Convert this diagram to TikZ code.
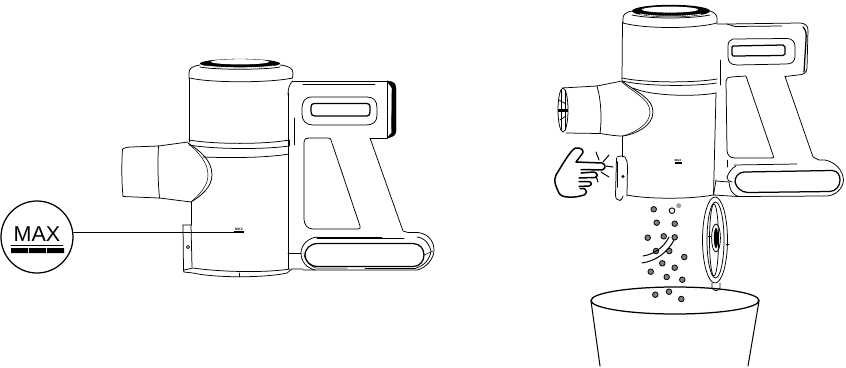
\documentclass[tikz,border=0pt]{standalone}
\usepackage{fontspec}
\setmainfont{Liberation Sans}
\begin{document}
\begin{tikzpicture}[x=1pt,y=-1pt,line join=round,line cap=round,
  ln/.style={draw=black,line width=0.75pt},
  hv/.style={draw=black,line width=1.25pt},
  thin ln/.style={draw=black,line width=0.5pt},
  dust/.style={circle,draw=black,fill=black!50,line width=0.8pt,inner sep=0pt,minimum size=5.6pt},
  wdust/.style={circle,draw=black,fill=white,line width=0.9pt,inner sep=0pt,minimum size=5.6pt},
  gdust/.style={circle,fill=black!38,inner sep=0pt,minimum size=5pt},
  tiny max/.style={font=\fontsize{3.4}{3.4}\selectfont\bfseries,inner sep=0pt,text=black}]
\useasboundingbox (0,0) rectangle (846,367);

% ---------- LEFT VACUUM ----------
% cap
\fill[black] (240,63.5) ellipse [x radius=40,y radius=4.6];
\fill[white] (240,61.8) ellipse [x radius=29,y radius=2.6];
\draw[white,line width=1pt,dash pattern=on 1pt off 1pt] (206,66) .. controls (225,68.4) and (255,68.4) .. (274,66);
\draw[ln] (189,78) -- (189,73) .. controls (189,68) and (193,66) .. (200,65);
\draw[ln] (280,65) .. controls (288,66) and (293,68) .. (293,73) -- (292.5,78);
\draw[ln] (200,67) .. controls (215,70) and (265,70) .. (280,67);
\draw[ln] (190,78) .. controls (210,83) and (270,83) .. (292.5,78);
% upper body
\draw[ln] (189,78) -- (189,142);
% band
\draw[ln] (189,140) .. controls (215,144.5) and (265,144.5) .. (289,140);
\draw[ln] (189,145) .. controls (215,149.5) and (265,149.5) .. (289,146);
\draw[ln] (203,157) .. controls (230,158) and (265,158) .. (289,154);
\draw[thin ln] (289,140) -- (289,146);
% nozzle
\draw[ln] (158.5,146) -- (131,147) .. controls (127,147) and (124,148) .. (122.5,149)
  .. controls (121.5,165) and (121.5,180) .. (123,196.5) -- (159,198);
\draw[ln] (158.5,146) .. controls (157.5,165) and (158,182) .. (159.5,198);
\draw[ln] (158.5,146) -- (188,142);
\draw[ln] (159.5,198) -- (191,202);
\draw[ln] (188,143) .. controls (200,151) and (212,160) .. (212,175) .. controls (212,187) and (201,196) .. (191,202);
\draw[thin ln] (188,143) .. controls (198,152) and (208,162) .. (208,175) .. controls (208,186) and (199,195) .. (191,202);
% lower body and latch
\draw[thin ln] (191,202) -- (191,225);
\draw[ln] (183,225) -- (191,225) -- (192,267);
\draw[ln] (183,225) -- (183.5,270) -- (184,272);
\draw[ln] (188,247) circle (1.6);
\draw[ln] (184,270) -- (193,268) .. controls (220,272) and (265,273) .. (290,269);
\draw[ln] (184,272) -- (193,273) .. controls (215,278) and (265,278) .. (287,273) -- (292,269) -- (303,269);
\draw[thin ln] (239,273) -- (239,277);
\draw[ln] (288,93) -- (288,269);
% handle
\draw[ln] (292.5,81) -- (387,81) (303,84) -- (375,84);
\draw[ln] (292.5,81) .. controls (289,85) and (288,89) .. (288,95);
\draw[ln] (387,81) -- (387,138) -- (370,138);
\draw[black,fill=black] (387,81) -- (391,81.5) .. controls (395,83) and (396,85) .. (396,88) -- (396,131) .. controls (396,135) and (393,137) .. (387,138) -- (391.5,133) -- (392,88) -- cycle;
\draw[ln] (370,138) -- (403,231) -- (408,232.5) -- (418,232.5) .. controls (430,234) and (434,243) .. (434,250) .. controls (434,259) and (426,268) .. (417,270) -- (303,270);
\draw[ln] (417,237) .. controls (426,238) and (430,246) .. (431,251) .. controls (430,259) and (424,266) .. (416,268);
\draw[thin ln] (424,255) -- (433,251);
\draw[ln] (302,110) .. controls (302,101) and (305,97) .. (312,97) -- (367,97) .. controls (374,97) and (377,101) .. (377,108) -- (377,115) .. controls (377,122) and (373,125) .. (366,125) -- (313,125) .. controls (306,125) and (302,121) .. (302,114) -- cycle;
\draw[hv] (314,103.5) -- (367,103.5) .. controls (369.5,103.5) and (370,105) .. (370,107) -- (370,112) .. controls (370,114.5) and (369,116) .. (367,116) -- (315,116) .. controls (312.5,116) and (311,115) .. (311,112) -- (311,107) .. controls (311,105) and (312,103.5) .. (314,103.5);
\draw[ln] (309,138) -- (328,138) .. controls (330,138) and (331,139) .. (331,140) -- (360,226) .. controls (360.5,228) and (360,229) .. (358,229) -- (313,229) .. controls (307,229) and (304,224) .. (304,219) -- (304,142) .. controls (304,139) and (306,138) .. (309,138) -- cycle;
\draw[ln] (294,118) -- (294,145);
\draw[ln] (288,253) -- (301,253);
\draw[ln] (317,237) -- (382,237) (317,238.5) -- (404,238.5);
\draw[ln] (317,237) .. controls (308,238) and (301,245) .. (301,253) .. controls (301,262) and (307,268) .. (315,270);
\draw[thin ln] (304,252) .. controls (304,260) and (309,266) .. (316,268) -- (347,268);
\draw[thin ln] (365,268) -- (416,268);
\draw[hv] (318,243.5) -- (413,243.5) .. controls (420,243.5) and (424,249) .. (424,255) .. controls (424,261) and (420,266.5) .. (413,266.5) -- (318,266.5) .. controls (310,266.5) and (305,261) .. (305,255) .. controls (305,249) and (310,243.5) .. (318,243.5) -- cycle;
% MAX callout
\node[draw=black,line width=1.25pt,circle,minimum size=72pt,inner sep=0pt] (maxc) at (37,237) {};
\node[font=\fontsize{21.5}{21.5}\selectfont,inner sep=0pt] (maxt) at (37,234.4) {MAX};
\node[tiny max] (smaxa) at (239,229) {MAX};
\node[fill=black,minimum width=9.5pt,minimum height=2pt,inner sep=0pt] (smaxb) at (239,232.4) {};
\coordinate (maxe) at (234.3,232);
\draw[ln,line width=0.9pt] (maxc.east |- maxe) -- (maxe);
\draw[line width=0.8pt] (11,245) -- (63,245);
\fill[black] (11,248) rectangle (28,253) (29,248) rectangle (46,253) (47,248) rectangle (64,253);

% ---------- RIGHT VACUUM ----------
% cap
\fill[black] (671,11) ellipse [x radius=39,y radius=6.2];
\fill[white] (670,9.6) ellipse [x radius=28,y radius=3];
\draw[white,line width=1pt,dash pattern=on 1.2pt off 1.2pt] (640,14) .. controls (655,17) and (685,17) .. (702,14);
\draw[ln] (623,23) -- (623,18) .. controls (623,14) and (627,12) .. (632,11);
\draw[ln] (710,11) .. controls (714,12) and (717,15) .. (717,18) -- (717,23);
\draw[ln] (632,15) .. controls (650,19) and (690,19) .. (710,15);
\draw[ln] (623,23) .. controls (645,29) and (695,29) .. (717,23);
\draw[ln] (622.5,22) -- (622,80);
\draw[ln] (622,78) .. controls (645,83) and (695,83) .. (717,79);
\draw[ln] (622,81) .. controls (645,86.5) and (695,86.5) .. (716.5,83);
\draw[ln] (633,88) .. controls (650,96) and (695,97) .. (716,93);
% nozzle
\draw[ln] (562,88) -- (597,86) -- (622,81);
\draw[ln] (566,133) -- (600,133.5) .. controls (610,135) and (615,136) .. (623,136);
\draw[ln] (563,110) ellipse [x radius=5,y radius=22];
\fill[black] (558,109) rectangle (568,111.5);
\draw[ln] (559,100) -- (566,104) (560,120) -- (566,116);
\draw[thin ln] (561,90) -- (561,130) (565,90) -- (565,130);
\draw[ln] (597,86) .. controls (601,100) and (602,118) .. (600,133.5);
\draw[ln] (622,81) .. controls (636,92) and (653,98) .. (653,112) .. controls (653,126) and (636,134) .. (623,136);
\draw[thin ln] (622,82) .. controls (634,93) and (650,99) .. (650,112) .. controls (650,124) and (636,132) .. (623,136);
% lower body, latch
\draw[thin ln] (622,136) -- (622,157);
\draw[ln] (617,157) .. controls (620,155.5) and (623,155.5) .. (625,157) .. controls (627,160) and (627.5,163) .. (627.5,166) -- (627,196);
\draw[ln] (616.5,158) -- (615.5,195) .. controls (615.5,199) and (617,200) .. (620,200.5) .. controls (622,199) and (622.5,198) .. (623,196);
\draw[hv,line width=1.5pt] (617.5,162) -- (617.5,187);
\fill[black] (623,176.5) circle (1.6);
\draw[ln] (627,195) .. controls (645,199) and (690,199.5) .. (713,195);
\draw[ln] (716,93) -- (713.5,195);
\node[tiny max,font=\fontsize{3}{3}\selectfont\bfseries] (smaxc) at (678,160) {MAX};
\node[fill=black,minimum width=7pt,minimum height=2pt,inner sep=0pt] (smaxd) at (678,163) {};
% handle
\draw[ln] (717,24) -- (727,24) (727,24) -- (735,26.5) -- (782,26);
\draw[ln] (727,24) -- (800,23) .. controls (805,23) and (808,26) .. (808,30) -- (807,68) .. controls (807,72) and (804,75) .. (798,75) -- (785,76.5);
\draw[hv] (803,27) .. controls (806,30) and (806.5,33) .. (806,40) -- (804,72);
\draw[ln] (785,76.5) -- (813,157) -- (819,160) -- (825,160) .. controls (835,162) and (843,170) .. (843.5,180) .. controls (843,189) and (835,196) .. (826,196) -- (738,196.5) .. controls (731,193) and (730,190) .. (729,182);
\draw[ln] (729,182) -- (716,181);
\draw[ln] (716,180) -- (713.5,195) (713.5,195) -- (738,196.5);
\draw[ln] (734,165) -- (797,164);
\draw[ln] (736,166) .. controls (732,168) and (729,172) .. (727,177);
\draw[ln] (727,177) .. controls (727,180) and (729,182) .. (732,182);
\draw[ln] (733,39) -- (786,38.5) .. controls (793,38.5) and (795,42) .. (795,47) -- (795,55) .. controls (795,62) and (792,64) .. (786,64) -- (737,65) .. controls (731,65) and (728,62) .. (728,57) -- (728,46) .. controls (728,42) and (730,39.5) .. (733,39) -- cycle;
\draw[hv] (733,46) -- (783,45) -- (785,47) -- (785,54) -- (783,55.5) -- (733,56) -- (732,54.5) -- (732,47) -- cycle;
\draw[ln] (731,77) -- (746,76) -- (773,155) .. controls (774,157) and (774,158) .. (772,158) -- (735,158) .. controls (730,158) and (727,155) .. (727,150) -- (726,81) .. controls (726,78.5) and (728,77) .. (731,77) -- cycle;
\draw[ln] (720,60) -- (720,85);
\draw[thin ln] (727,160) -- (727,167);
\draw[hv] (744,172) -- (832,170.5) .. controls (838,170.5) and (840,176) .. (840,180) .. controls (840,186) and (836,191) .. (830,191.5) -- (748,192.5) .. controls (741,192.5) and (736,187) .. (735,182) .. controls (735,177) and (738,172.5) .. (744,172) -- cycle;
% lid
\draw[ln] (715,240) ellipse [x radius=12.5,y radius=43];
\draw[ln] (715.5,240) ellipse [x radius=8.5,y radius=38];
\draw[ln] (714,240) ellipse [x radius=4.5,y radius=36];
\fill[black] (716,238) ellipse [x radius=2.2,y radius=10];
\draw[ln] (716,238) ellipse [x radius=4.4,y radius=14];
\draw[thin ln] (708,236) -- (711,236) (726,244.5) -- (729,244.5);
\draw[ln] (712,283) -- (712,288) .. controls (714,291.5) and (718,291.5) .. (720,288) -- (720,283);
% hand
\draw[line width=1.5pt] (556,175) .. controls (561,167) and (566,158) .. (571,152) .. controls (574,148) and (577,147) .. (579,148) .. controls (583,149) and (584,152) .. (582,154) -- (576,162) -- (602,163) .. controls (606,164) and (606,169) .. (602,170) -- (581,169.5);
\draw[line width=1.5pt] (581,173) -- (594,172) .. controls (598,173) and (598,177) .. (595,177.5) -- (579,178);
\draw[line width=1.5pt] (579,181.5) -- (589,181.5) .. controls (592,182) and (592,185.5) .. (589,186) -- (579,186.5);
\draw[line width=1.5pt] (580,188.5) -- (584,188.5) .. controls (587,190) and (587,194) .. (584,195) .. controls (578,197) and (572,197.5) .. (568,197) .. controls (563,197) and (559,195) .. (558,191) .. controls (556,186) and (553,181) .. (556,175);
\draw[ln,line width=1pt] (596,152) -- (599,160) (609,155) -- (603,162) (613,167) -- (606,166) (609,177) -- (601,172) (598,182) -- (596,176);
% bin
\draw[hv] (675,300.5) ellipse [x radius=84,y radius=13.5];
\draw[hv,line width=1pt] (591,301) -- (600,366) (759,301) -- (748,366);
% dust
\foreach \n/\p in {a/{653.7,209.3},b/{656.7,222.7},c/{674.7,223.7},d/{647.7,237.7},e/{663.7,236.3},f/{674.7,237.3},g/{656,251},h/{669.3,251},i/{684.3,257},j/{662.3,263.3},k/{674.7,267.7},l/{650.7,271.7},m/{666.7,277},o/{682.3,279.7},q/{655.3,294.7},r/{669,291.7},s/{681.3,299}}
  \node[dust] (d\n) at (\p) {};
\node[wdust] (dw) at (672,210.7) {};
\node[gdust] (dg) at (678.7,205.7) {};
\draw[ln,line width=1pt] (643,256) .. controls (655,254) and (664,247) .. (669,237);
\draw[ln,line width=1pt] (642,263) .. controls (656,261) and (668,252) .. (674,240);
\end{tikzpicture}
\end{document}
